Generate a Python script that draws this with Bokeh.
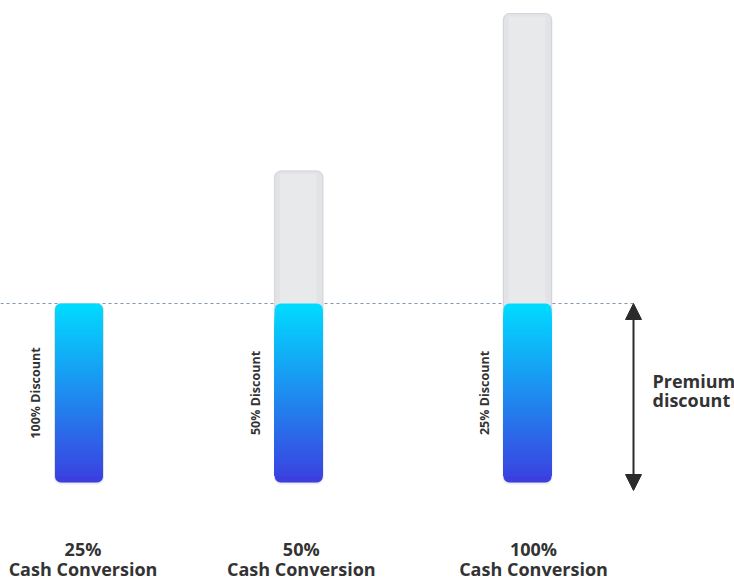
import numpy as np
from bokeh.plotting import figure
from bokeh.models import Arrow, NormalHead, Range1d
from bokeh.core.properties import value
from bokeh.embed import file_html
from bokeh.resources import INLINE

# ---- data ----
conversion_pcts = ["25%", "50%", "100%"]
conversion_label = "Cash Conversion"
discount_labels = ["100% Discount", "50% Discount", "25% Discount"]
blue_heights = [100, 100, 100]
total_heights = [100, 174, 262]
side_label_lines = ["Premium", "discount"]

# ---- layout ----
W, H = 734, 581
xs = np.array([0.0, 0.98, 2.0])   # bar slots
px_x = 224.25            # pixels per x unit
px_y = 1.79              # pixels per y unit
x0 = -78.5 / px_x
y0 = -(H - 482) / px_y
p = figure(width=W, height=H, output_backend="svg", toolbar_location=None,
           x_range=Range1d(x0, x0 + W / px_x), y_range=Range1d(y0, y0 + H / px_y),
           min_border=0, outline_line_color=None, background_fill_color="white",
           border_fill_color="white")
p.axis.visible = False
p.grid.visible = False

bw = 48 / px_x
FONT = value("Open Sans")
TXT = "#333333"

# dashed reference line
p.line([x0, x0 + 636 / px_x], [blue_heights[0]] * 2, line_color="#8097B0",
       line_dash="3 3", line_width=1)

# shadows
sh = 2 / px_y
p.quad(left=xs - bw / 2 - 1 / px_x, right=xs + bw / 2 + 1 / px_x,
       bottom=[-sh] * 3, top=np.array(total_heights) + 0.5 / px_y,
       fill_color="black", fill_alpha=0.07, line_color=None, border_radius=7)

# grey bars (total)
p.quad(left=xs - bw / 2, right=xs + bw / 2, bottom=[0] * 3, top=total_heights,
       fill_color="#E2E3E6", line_color="#D4D5D8", line_width=1, border_radius=6)
p.quad(left=xs - bw / 2 + 5 / px_x, right=xs + bw / 2 - 6 / px_x, bottom=[0] * 3,
       top=np.array(total_heights) - 3 / px_y,
       fill_color="#E8E9EB", line_color=None)

# blue gradient bars
top_c = np.array([0, 218, 255], dtype=float)
bot_c = np.array([60, 62, 224], dtype=float)
def col(t):
    c = bot_c + (top_c - bot_c) * t
    return "#%02x%02x%02x" % tuple(int(round(v)) for v in c)

N = 80
cap = 4.0
for i, x in enumerate(xs):
    h = blue_heights[i]
    p.quad(left=[x - bw / 2], right=[x + bw / 2], bottom=[h - cap], top=[h],
           fill_color=col(1.0), line_color=None, border_radius=(6, 6, 0, 0))
    p.quad(left=[x - bw / 2], right=[x + bw / 2], bottom=[0], top=[cap + 1],
           fill_color=col(0.0), line_color=None, border_radius=(0, 0, 6, 6))
    # strips drawn from the tallest down so each covers the seam of the previous
    tops = np.linspace(h - cap + 0.5, cap + 0.5, N)
    p.quad(left=[x - bw / 2] * N, right=[x + bw / 2] * N, bottom=[cap] * N,
           top=tops, fill_color=[col(t / h) for t in tops], line_color=None)

# rotated discount labels
p.text(x=xs - 43.5 / px_x, y=np.array(blue_heights) / 2, text=discount_labels,
       angle=np.pi / 2, text_font=FONT, text_font_style="bold", text_font_size="12.5px",
       text_color=TXT, text_align="center", text_baseline="middle")

# category labels
lx = xs + np.array([4, 2.5, 6]) / px_x
p.text(x=lx, y=[(482 - 548) / px_y] * 3, text=conversion_pcts, text_font=FONT,
       text_font_style="bold", text_font_size="18px", text_color=TXT,
       text_align="center", text_baseline="middle")
p.text(x=lx, y=[(482 - 568) / px_y] * 3, text=[conversion_label] * 3, text_font=FONT,
       text_font_style="bold", text_font_size="18px", text_color=TXT,
       text_align="center", text_baseline="middle")

# arrow
ax = x0 + 633 / px_x
p.add_layout(Arrow(start=NormalHead(size=16, fill_color="#2b2b2b", line_color="#2b2b2b"),
                   end=NormalHead(size=16, fill_color="#2b2b2b", line_color="#2b2b2b"),
                   x_start=ax, y_start=blue_heights[0], x_end=ax, y_end=-8 / px_y,
                   line_color="#2b2b2b", line_width=2))
p.text(x=[x0 + 652 / px_x] * 2, y=[(482 - 380) / px_y, (482 - 399) / px_y],
       text=side_label_lines, text_font=FONT,
       text_font_style="bold", text_font_size="18px", text_color=TXT,
       text_align="left", text_baseline="middle")

open("out.html", "w").write(file_html(p, INLINE))
